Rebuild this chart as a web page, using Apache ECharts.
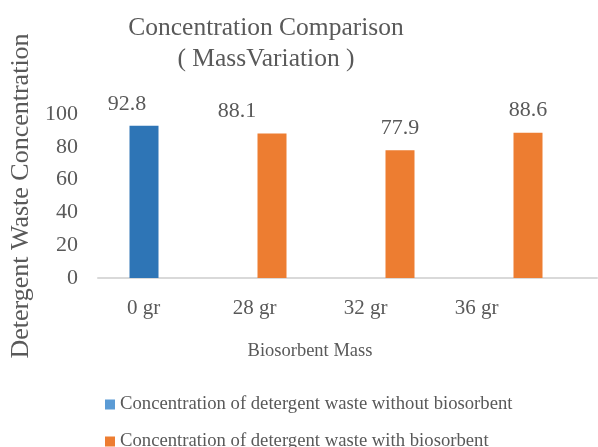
<!DOCTYPE html>
<html>
<head>
<meta charset="utf-8">
<script src="https://cdn.jsdelivr.net/npm/echarts@6/dist/echarts.min.js"></script>
<style>
  html, body { margin: 0; padding: 0; background: #fff; }
  #chart { width: 598px; height: 447px; }
</style>
</head>
<body>
<div id="chart"></div>
<script>
const categories = ["0 gr", "28 gr", "32 gr", "36 gr"];
const withoutBiosorbent = [92.8, null, null, null];
const withBiosorbent = [null, 88.1, 77.9, 88.6];
const yTicks = [0, 20, 40, 60, 80, 100];

const seriesNames = [
  "Concentration of detergent waste without biosorbent",
  "Concentration of detergent waste with biosorbent",
];

const font = "Liberation Serif";
const grey = "#595959";

// value labels in the picture are nudged left on the first two bars
const labelShift = [-17, -35, 0, 0];

const withLabels = (values) =>
  values.map((v, i) =>
    v == null ? v : { value: v, label: { offset: [labelShift[i], 0] } }
  );

const legendItem = (name, color, top) => ({
  left: 100,
  top: top,
  itemWidth: 10,
  itemHeight: 10,
  icon: "rect",
  textStyle: { fontFamily: font, fontSize: 18.7, color: grey },
  data: [{ name: name, itemStyle: { color: color } }],
});

const chart = echarts.init(document.getElementById("chart"));

const option = {
  backgroundColor: "#fff",
  animation: false,
  textStyle: { fontFamily: font },
  title: {
    text: "Concentration Comparison\n( MassVariation )",
    left: 261,
    top: 8,
    textAlign: "center",
    textStyle: {
      fontFamily: font,
      fontWeight: "normal",
      fontSize: 25.5,
      lineHeight: 31,
      color: grey,
    },
  },
  legend: [
    legendItem(seriesNames[0], "#5B9BD5", 390),
    legendItem(seriesNames[1], "#ED7D31", 427),
  ],
  grid: [
    { left: 80, right: 6, top: 114, bottom: 169 },
    { left: 98, right: 1, top: 114, bottom: 169 },
    { left: 88, right: 66, top: 114, bottom: 169 },
  ],
  xAxis: [
    {
      type: "category",
      gridIndex: 0,
      data: categories,
      axisLine: { show: false },
      axisTick: { show: false },
      axisLabel: { show: false },
    },
    {
      type: "category",
      gridIndex: 1,
      data: categories,
      axisLine: { show: true, lineStyle: { color: "#D9D9D9", width: 2 } },
      axisTick: { show: false },
      axisLabel: { show: false },
    },
    {
      type: "category",
      gridIndex: 2,
      data: categories,
      axisLine: { show: false },
      axisTick: { show: false },
      axisLabel: {
        margin: 20,
        fontFamily: font,
        fontSize: 21,
        color: grey,
      },
      name: "Biosorbent Mass",
      nameLocation: "middle",
      nameGap: 64,
      nameTextStyle: { fontFamily: font, fontSize: 18.5, color: grey },
    },
  ],
  yAxis: [
    {
      type: "value",
      gridIndex: 0,
      min: yTicks[0],
      max: yTicks[yTicks.length - 1],
      interval: yTicks[1] - yTicks[0],
      axisLine: { show: false },
      axisTick: { show: false },
      splitLine: { show: false },
      axisLabel: {
        margin: 2,
        fontFamily: font,
        fontSize: 22,
        color: grey,
      },
      name: "Detergent Waste Concentration",
      nameLocation: "middle",
      nameRotate: 90,
      nameGap: 37,
      nameTextStyle: { fontFamily: font, fontSize: 26, color: grey },
    },
    { type: "value", gridIndex: 1, show: false, min: 0, max: 100 },
    { type: "value", gridIndex: 2, show: false, min: 0, max: 100 },
  ],
  series: [
    {
      name: seriesNames[0],
      type: "bar",
      xAxisIndex: 0,
      yAxisIndex: 0,
      barWidth: 29,
      barGap: "-100%",
      itemStyle: { color: "#2E75B6" },
      label: {
        show: true,
        position: "top",
        distance: 11,
        fontFamily: font,
        fontSize: 22,
        color: grey,
      },
      data: withLabels(withoutBiosorbent),
    },
    {
      name: seriesNames[1],
      type: "bar",
      xAxisIndex: 0,
      yAxisIndex: 0,
      barWidth: 29,
      barGap: "-100%",
      itemStyle: { color: "#ED7D31" },
      label: {
        show: true,
        position: "top",
        distance: 11,
        fontFamily: font,
        fontSize: 22,
        color: grey,
      },
      data: withLabels(withBiosorbent),
    },
  ],
};

chart.setOption(option);
</script>
</body>
</html>
